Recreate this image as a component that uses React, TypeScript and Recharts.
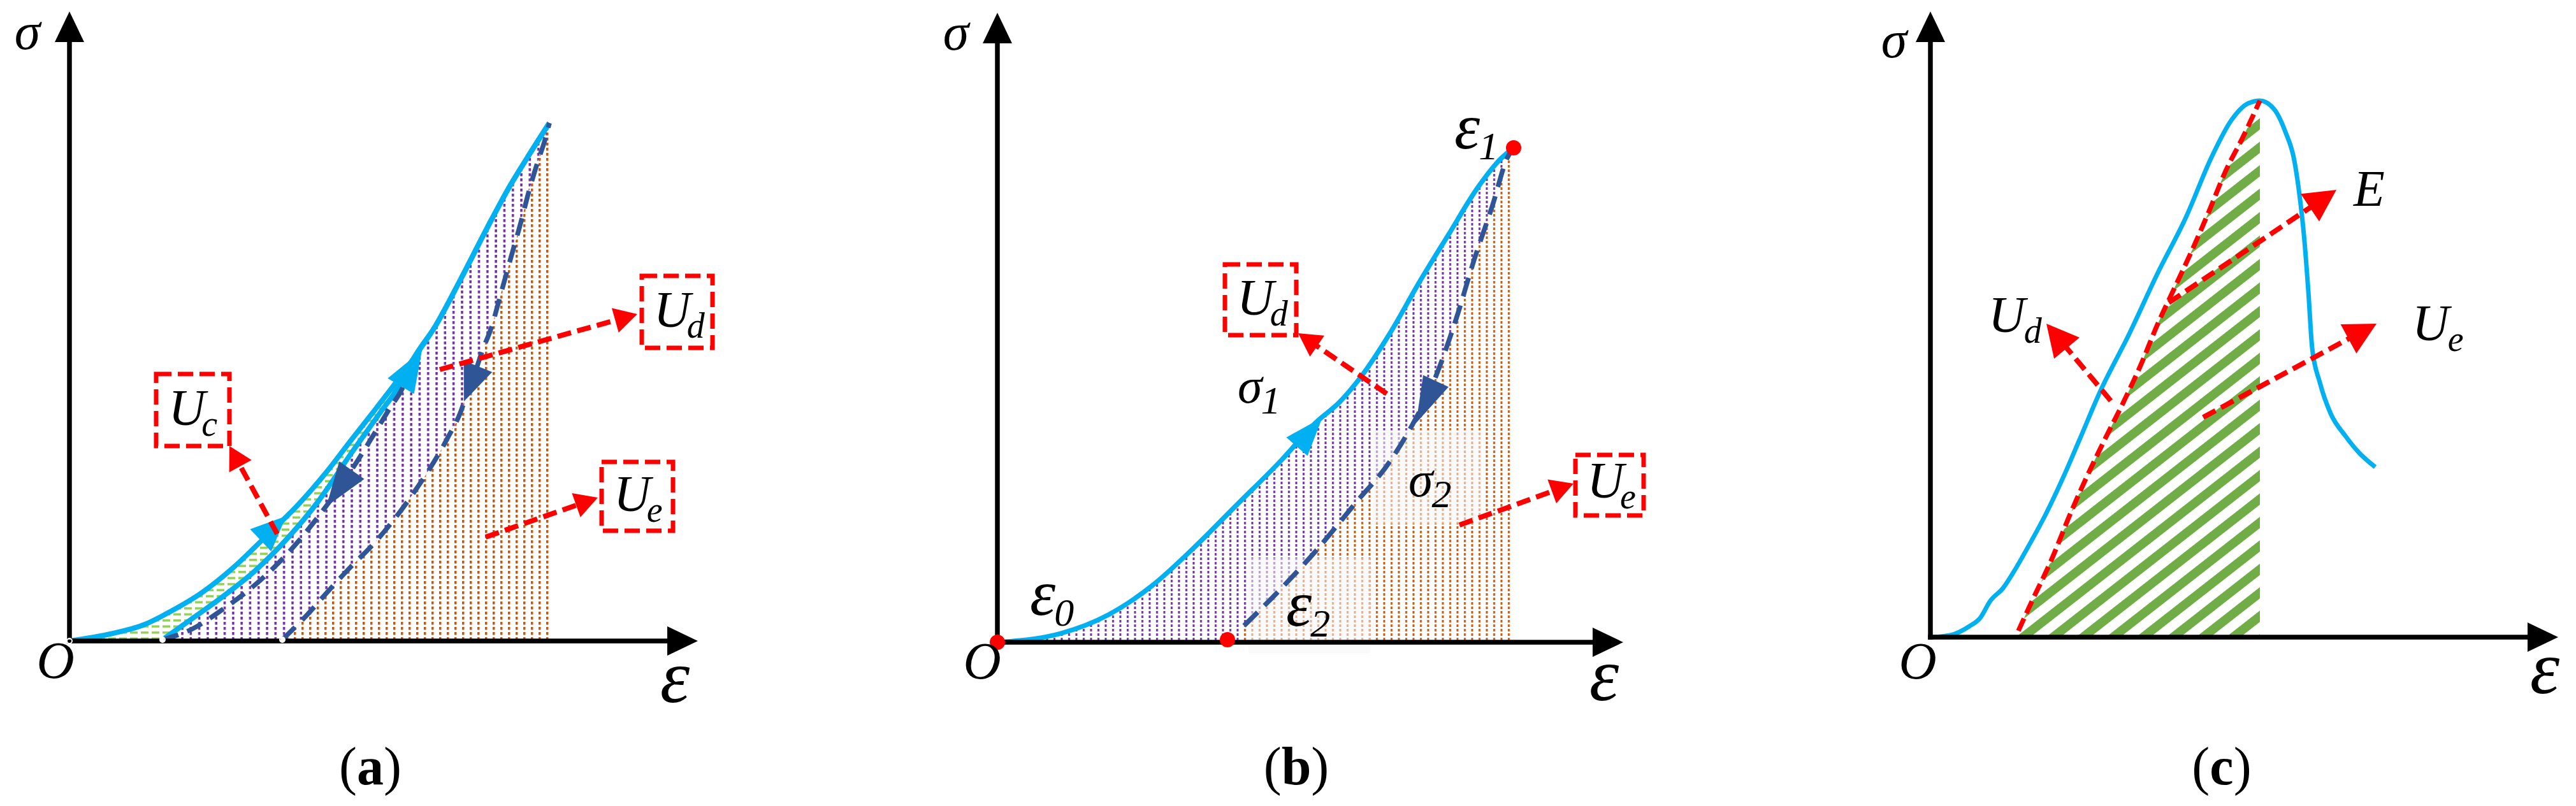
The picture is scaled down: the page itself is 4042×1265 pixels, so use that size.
import React from "react";
import {
  Area,
  ComposedChart,
  Line,
  ReferenceArea,
  ReferenceDot,
  ReferenceLine,
  XAxis,
  YAxis,
} from "recharts";

type Pt = { x: number; y: number };
type Note = { x: number; y: number; main: string; sub?: string };
type Callout = { main: string; sub: string; box?: number[]; from: number[]; to: number[] };
type Flow = { kind: "load" | "unload"; from: number[]; to: number[] };

const toPts = (a: number[][]): Pt[] => a.map(([x, y]) => ({ x, y }));

// ---------- (a) loading, unloading and reloading ----------
const loadA = toPts([
  [0, 0], [64, 11], [118, 26], [158, 46], [208, 76], [258, 116], [308, 164], [358, 213],
  [408, 271], [441, 314], [474, 356], [508, 400], [541, 445], [574, 494], [614, 568],
  [661, 659], [691, 714], [718, 758], [753, 813],
]);
const innerA = toPts([
  [146, 2], [191, 34], [241, 70], [291, 110], [341, 160], [391, 220], [441, 293],
  [488, 359], [521, 406],
]);
const reloadA = [...innerA, ...loadA.slice(12)];
const unload1A = toPts([
  [146, 2], [191, 18], [241, 50], [291, 88], [341, 136], [391, 196], [441, 266],
  [500, 361], [525, 402], [541, 445],
]);
const unload2A = toPts([
  [334, 2], [371, 39], [404, 76], [441, 116], [474, 149], [539, 231], [593, 318],
  [614, 360], [624, 389], [638, 426], [648, 456], [661, 489], [678, 549], [693, 603],
  [708, 656], [721, 706], [736, 756], [746, 786], [753, 813],
]);
const flowA: Flow[] = [
  { kind: "load", from: [300, 158], to: [340, 196] },
  { kind: "load", from: [520, 400], to: [553, 456] },
  { kind: "unload", from: [443, 268], to: [403, 211] },
  { kind: "unload", from: [641, 431], to: [619, 376] },
];
const calloutsA: Callout[] = [
  { main: "U", sub: "c", box: [136, 251, 306, 419], from: [326, 168], to: [251, 306] },
  { main: "U", sub: "d", box: [898, 1009, 460, 573], from: [581, 426], to: [891, 513] },
  { main: "U", sub: "e", box: [835, 947, 173, 281], from: [653, 163], to: [829, 225] },
];
const axisNotesA: Note[] = [
  { x: -66, y: 929, main: "σ" },
  { x: -22, y: -58, main: "O" },
  { x: 950, y: -96, main: "ε" },
];

// ---------- (b) single cycle ----------
const loadB = toPts([
  [0, 0], [100, 14], [174, 43], [243, 89], [306, 146], [375, 215], [444, 284], [502, 347],
  [536, 376], [570, 416], [616, 485], [662, 565], [708, 640], [754, 714], [789, 758], [810, 776],
]);
const unloadB = toPts([
  [387, 26], [444, 83], [502, 146], [559, 215], [616, 284], [651, 341], [685, 410],
  [720, 508], [748, 600], [777, 686], [800, 760], [810, 776],
]);
const pointsB = toPts([[0, 0], [361, 4], [810, 776]]);
const flowB: Flow[] = [
  { kind: "load", from: [470, 307], to: [510, 353] },
  { kind: "unload", from: [688, 410], to: [657, 344] },
];
const calloutsB: Callout[] = [
  { main: "U", sub: "d", box: [357, 469, 482, 593], from: [611, 390], to: [472, 485] },
  { main: "U", sub: "e", box: [907, 1014, 199, 294], from: [725, 184], to: [904, 249] },
];
const shadesB = [[394, 585, -17, 132], [588, 760, 186, 333]];
const symbolsB: Note[] = [
  { x: 717, y: 775, main: "ε", sub: "1" },
  { x: 377, y: 376, main: "σ", sub: "1" },
  { x: 51, y: 43, main: "ε", sub: "0" },
  { x: 453, y: 26, main: "ε", sub: "2" },
  { x: 645, y: 229, main: "σ", sub: "2" },
];
const axisNotesB: Note[] = [
  { x: -65, y: 930, main: "σ" },
  { x: -24, y: -57, main: "O" },
  { x: 952, y: -91, main: "ε" },
];

// ---------- (c) full stress-strain curve ----------
const curveC = toPts([
  [0, 0], [31, 3], [61, 17], [78, 30], [94, 57], [114, 77], [131, 103], [154, 143],
  [181, 193], [208, 250], [234, 310], [267, 387], [312, 476], [356, 570], [401, 659],
  [441, 753], [472, 811], [499, 838], [517, 842], [539, 829], [557, 793], [571, 748],
  [579, 695], [586, 632], [593, 543], [599, 454], [611, 400], [628, 351], [651, 316],
  [673, 289], [698, 267],
]);
const modulusC = toPts([
  [138, 10], [161, 60], [188, 117], [221, 197], [240, 240], [272, 307], [303, 369],
  [330, 427], [356, 490], [383, 548], [410, 606], [437, 668], [463, 731], [490, 784], [517, 842],
]);
const calloutsC: Callout[] = [
  { main: "E", sub: "", from: [374, 525], to: [637, 702] },
  { main: "U", sub: "d", from: [283, 371], to: [182, 492] },
  { main: "U", sub: "e", from: [428, 345], to: [700, 492] },
];
const symbolsC: Note[] = [
  { x: 664, y: 677, main: "E" },
  { x: 91, y: 479, main: "U", sub: "d" },
  { x: 756, y: 466, main: "U", sub: "e" },
];
const axisNotesC: Note[] = [
  { x: -57, y: 910, main: "σ" },
  { x: -20, y: -65, main: "O" },
  { x: 964, y: -88, main: "ε" },
];

const FONT = "'Liberation Serif', 'Times New Roman', Times, serif";
const CYAN = "#00B0F0";
const NAVY = "#2F5597";
const RED = "#FF0000";
const MARGIN = { top: 0, right: 0, bottom: 0, left: 0 };
const TOP = 1000; // keep frame and annotations above the hatched areas

// draws a shaft (optional) and a filled head at the second point of a segment
function arrow(color: string, width: number, dash: string, head: number, half: number, cap = "butt") {
  return (p: any) => {
    const { x1, y1, x2, y2 } = p;
    const len = Math.hypot(x2 - x1, y2 - y1) || 1;
    const ux = (x2 - x1) / len;
    const uy = (y2 - y1) / len;
    const h = head > 0 ? head : len;
    const bx = x2 - ux * h;
    const by = y2 - uy * h;
    return (
      <g>
        {width > 0 ? (
          <line
            x1={x1}
            y1={y1}
            x2={bx + ux * 3}
            y2={by + uy * 3}
            stroke={color}
            strokeWidth={width}
            strokeDasharray={dash || undefined}
            strokeLinecap={cap as any}
          />
        ) : null}
        <polygon
          points={`${x2},${y2} ${bx - uy * half},${by + ux * half} ${bx + uy * half},${by - ux * half}`}
          fill={color}
        />
      </g>
    );
  };
}

function boxShape(main: string, sub: string) {
  return (p: any) => (
    <g>
      <rect
        x={p.x}
        y={p.y}
        width={p.width}
        height={p.height}
        fill="#fff"
        stroke={RED}
        strokeWidth={7}
        strokeDasharray="24 10"
      />
      <text
        x={p.x + p.width * 0.17}
        y={p.y + p.height * 0.71}
        fontFamily={FONT}
        fontStyle="italic"
        fontSize={80}
        fill="#000"
      >
        {main}
        <tspan dx={-6} dy={17} fontSize={56}>
          {sub}
        </tspan>
      </text>
    </g>
  );
}

function noteShape(n: Note, axis: boolean) {
  const eps = n.main === "ε";
  const size = axis ? (eps ? 118 : 82) : eps ? 102 : n.main === "σ" ? 78 : 80;
  const subSize = /\d/.test(n.sub ?? "") ? 62 : 56;
  return (p: any) => (
    <text
      x={p.cx}
      y={p.cy}
      fontFamily={FONT}
      fontStyle="italic"
      fontSize={size}
      fill="#000"
      textAnchor={axis ? "middle" : "start"}
    >
      {n.main}
      {n.sub ? (
        <tspan dx={-2} dy={17} fontSize={subSize}>
          {n.sub}
        </tspan>
      ) : null}
    </text>
  );
}

function captionShape(letter: string) {
  return (p: any) => (
    <text x={p.cx} y={p.cy} fontFamily={FONT} fontSize={84} fill="#000" textAnchor="middle">
      (<tspan fontWeight="bold">{letter}</tspan>)
    </text>
  );
}

function notes(list: Note[], key: string, axis: boolean) {
  return list.map((n, i) => (
    <ReferenceDot key={key + i} x={n.x} y={n.y} r={0} zIndex={TOP} shape={noteShape(n, axis)} />
  ));
}

function frame(key: string, xEnd: number, yEnd: number, letter: string, capX: number, capY: number) {
  const axisArrow = arrow("#000", 7.5, "", 48, 23, "square");
  return [
    <ReferenceLine key={key + "x"} zIndex={TOP} segment={[{ x: 0, y: 0 }, { x: xEnd, y: 0 }]} shape={axisArrow} />,
    <ReferenceLine key={key + "y"} zIndex={TOP} segment={[{ x: 0, y: 0 }, { x: 0, y: yEnd }]} shape={axisArrow} />,
    <ReferenceDot key={key + "cap"} zIndex={TOP} x={capX} y={capY} r={0} shape={captionShape(letter)} />,
  ];
}

function flows(list: Flow[], key: string, half: number) {
  return list.map((f, i) => (
    <ReferenceLine
      key={key + i}
      zIndex={TOP}
      segment={[{ x: f.from[0], y: f.from[1] }, { x: f.to[0], y: f.to[1] }]}
      shape={arrow(f.kind === "load" ? CYAN : NAVY, 0, "", 0, half)}
    />
  ));
}

function callouts(list: Callout[], key: string, head: number, half: number) {
  return list.flatMap((c, i) => [
    c.box ? (
      <ReferenceArea
        key={key + "b" + i}
        zIndex={TOP}
        x1={c.box[0]}
        x2={c.box[1]}
        y1={c.box[2]}
        y2={c.box[3]}
        shape={boxShape(c.main, c.sub)}
      />
    ) : null,
    <ReferenceLine
      key={key + "a" + i}
      zIndex={TOP}
      segment={[{ x: c.from[0], y: c.from[1] }, { x: c.to[0], y: c.to[1] }]}
      shape={arrow(RED, 8, "22 10", head, half)}
    />,
  ]);
}

function PanelA() {
  return (
    <ComposedChart width={1350} height={1265} margin={MARGIN}>
      <defs>
        <pattern id="a-green" patternUnits="userSpaceOnUse" width={17} height={9.5}>
          <rect x={0} y={3} width={12} height={3.5} fill="#92D050" />
        </pattern>
        <pattern id="a-purple" patternUnits="userSpaceOnUse" width={13.3} height={8}>
          <rect width={13.3} height={8} fill="#fff" />
          <rect x={5} y={0} width={3.5} height={4.5} fill="#7030A0" />
        </pattern>
        <pattern id="a-orange" patternUnits="userSpaceOnUse" width={12} height={8}>
          <rect width={12} height={8} fill="#fff" />
          <rect x={5} y={0} width={3.5} height={4.5} fill="#C55A11" />
        </pattern>
      </defs>
      <XAxis type="number" dataKey="x" domain={[-109, 1241]} hide allowDataOverflow />
      <YAxis type="number" domain={[-259, 1006]} hide allowDataOverflow />
      <Area data={loadA} dataKey="y" type="monotone" stroke="none" fill="url(#a-green)" fillOpacity={1} baseValue={0} isAnimationActive={false} />
      <Area data={reloadA} dataKey="y" type="monotone" stroke="none" fill="url(#a-purple)" fillOpacity={1} baseValue={0} isAnimationActive={false} />
      <Area data={unload2A} dataKey="y" type="monotone" stroke="none" fill="url(#a-orange)" fillOpacity={1} baseValue={0} isAnimationActive={false} />
      <Line data={loadA} dataKey="y" type="monotone" stroke={CYAN} strokeWidth={8} dot={false} activeDot={false} isAnimationActive={false} />
      <Line data={reloadA} dataKey="y" type="monotone" stroke={CYAN} strokeWidth={8} dot={false} activeDot={false} isAnimationActive={false} />
      <Line data={unload1A} dataKey="y" type="monotone" stroke={NAVY} strokeWidth={7.5} strokeDasharray="26 15" dot={false} activeDot={false} isAnimationActive={false} />
      <Line data={unload2A} dataKey="y" type="monotone" stroke={NAVY} strokeWidth={7.5} strokeDasharray="28 16" dot={false} activeDot={false} isAnimationActive={false} />
      {flows(flowA, "fa", 24)}
      {callouts(calloutsA, "ca", 36, 20)}
      {frame("a", 986, 988, "a", 472, -225)}
      {notes(axisNotesA, "na", true)}
    </ComposedChart>
  );
}

function PanelB() {
  return (
    <ComposedChart width={1350} height={1265} margin={MARGIN}>
      <defs>
        <pattern id="b-purple" patternUnits="userSpaceOnUse" width={11.5} height={7}>
          <rect x={4} y={0} width={3} height={4} fill="#7030A0" />
        </pattern>
        <pattern id="b-orange" patternUnits="userSpaceOnUse" width={11.5} height={7}>
          <rect width={11.5} height={7} fill="#fff" />
          <rect x={4} y={0} width={3} height={4} fill="#C55A11" />
        </pattern>
      </defs>
      <XAxis type="number" dataKey="x" domain={[-215, 1135]} hide allowDataOverflow />
      <YAxis type="number" domain={[-257, 1008]} hide allowDataOverflow />
      <Area data={loadB} dataKey="y" type="monotone" stroke="none" fill="url(#b-purple)" fillOpacity={1} baseValue={0} isAnimationActive={false} />
      <Area data={unloadB} dataKey="y" type="monotone" stroke="none" fill="url(#b-orange)" fillOpacity={1} baseValue={0} isAnimationActive={false} />
      {shadesB.map((s, i) => (
        <ReferenceArea key={"sb" + i} zIndex={150} x1={s[0]} x2={s[1]} y1={s[2]} y2={s[3]} fill="#f5f5f5" fillOpacity={0.55} stroke="none" />
      ))}
      <Line data={loadB} dataKey="y" type="monotone" stroke={CYAN} strokeWidth={7.5} dot={false} activeDot={false} isAnimationActive={false} />
      <Line data={unloadB} dataKey="y" type="monotone" stroke={NAVY} strokeWidth={7.5} strokeDasharray="30 15" dot={false} activeDot={false} isAnimationActive={false} />
      {flows(flowB, "fb", 22)}
      {callouts(calloutsB, "cb", 36, 20)}
      {frame("b", 982, 988, "b", 469, -223)}
      {pointsB.map((p, i) => (
        <ReferenceDot key={"pb" + i} zIndex={TOP} x={p.x} y={p.y} r={12} fill={RED} stroke="none" />
      ))}
      {notes(axisNotesB, "nb", true)}
      {notes(symbolsB, "sb", false)}
    </ComposedChart>
  );
}

function PanelC() {
  return (
    <ComposedChart width={1342} height={1265} margin={MARGIN}>
      <defs>
        <pattern id="c-green" patternUnits="userSpaceOnUse" width={29} height={29} patternTransform="rotate(52)">
          <rect x={0} y={0} width={14} height={29} fill="#70AD47" />
        </pattern>
      </defs>
      <XAxis type="number" dataKey="x" domain={[-329, 1013]} hide allowDataOverflow />
      <YAxis type="number" domain={[-265, 1000]} hide allowDataOverflow />
      <Area data={modulusC} dataKey="y" type="monotone" stroke="none" fill="url(#c-green)" fillOpacity={1} baseValue={0} isAnimationActive={false} />
      <Line data={curveC} dataKey="y" type="monotone" stroke={CYAN} strokeWidth={7} dot={false} activeDot={false} isAnimationActive={false} />
      <Line data={modulusC} dataKey="y" type="monotone" stroke={RED} strokeWidth={7.5} strokeDasharray="21 9" dot={false} activeDot={false} isAnimationActive={false} />
      {callouts(calloutsC, "cc", 50, 26)}
      {frame("c", 985, 982, "c", 457, -231)}
      {notes(axisNotesC, "nc", true)}
      {notes(symbolsC, "sc", false)}
    </ComposedChart>
  );
}

export default function App() {
  return (
    <div
      style={{
        position: "absolute",
        left: 0,
        top: 0,
        width: 4042,
        height: 1265,
        background: "#fff",
        display: "flex",
      }}
    >
      <PanelA />
      <PanelB />
      <PanelC />
    </div>
  );
}
